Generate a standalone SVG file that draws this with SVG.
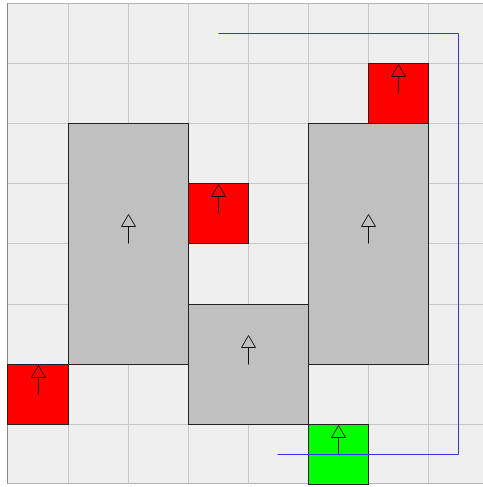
<svg xmlns="http://www.w3.org/2000/svg" xmlns:xlink="http://www.w3.org/1999/xlink" width="483" height="487" viewBox="0 0 483 487">
<style>
.grid{stroke:#c8c8c8;stroke-width:1;fill:none}
.box{stroke:#222;stroke-width:1}
.red{fill:#ff0000}
.green{fill:#00ff00}
.gray{fill:#c0c0c0}
.arr{fill:none;stroke:#111;stroke-width:1}
.path{fill:none;stroke:#3333ff;stroke-width:1}
</style>
<defs>
<g id="arrow" class="arr"><polygon points="0,-29 -7,-17 7,-17"/><line x1="0" y1="-17" x2="0" y2="0"/></g>
</defs>
<rect width="483" height="487" fill="#ffffff"/>
<g transform="translate(0.5,0.5)">
<g id="grid">
<rect x="7" y="3" width="490" height="480" fill="#efefef" stroke="#b4b4b4"/>
<path class="grid" d="M68 3V483M128 3V483M188 3V483M248 3V483M308 3V483M368 3V483M428 3V483M7 63H483M7 123H483M7 183H483M7 243H483M7 304H483M7 364H483M7 424H483"/>
<line x1="7" y1="3" x2="7" y2="483" stroke="#888"/>
</g>
<g id="node-gray1"><rect class="box gray" x="68" y="123" width="120" height="241"/><use xlink:href="#arrow" x="128" y="243"/></g>
<g id="node-gray2"><rect class="box gray" x="188" y="304" width="120" height="120"/><use xlink:href="#arrow" x="248" y="364"/></g>
<g id="node-gray3"><rect class="box gray" x="308" y="123" width="120" height="241"/><use xlink:href="#arrow" x="368" y="243"/></g>
<g id="node-red1"><rect class="box red" x="368" y="63" width="60" height="60"/><use xlink:href="#arrow" x="398" y="93"/></g>
<g id="node-red2"><rect class="box red" x="188" y="183" width="60" height="60"/><use xlink:href="#arrow" x="218" y="213"/></g>
<g id="node-red3"><rect class="box red" x="7" y="364" width="61" height="60"/><use xlink:href="#arrow" x="38" y="394"/></g>
<g id="node-green"><rect class="box green" x="308" y="424" width="60" height="60"/><use xlink:href="#arrow" x="338" y="454"/></g>
<g id="connectors"><path class="path" d="M218 33H458V454H277"/></g>
</g>
</svg>
